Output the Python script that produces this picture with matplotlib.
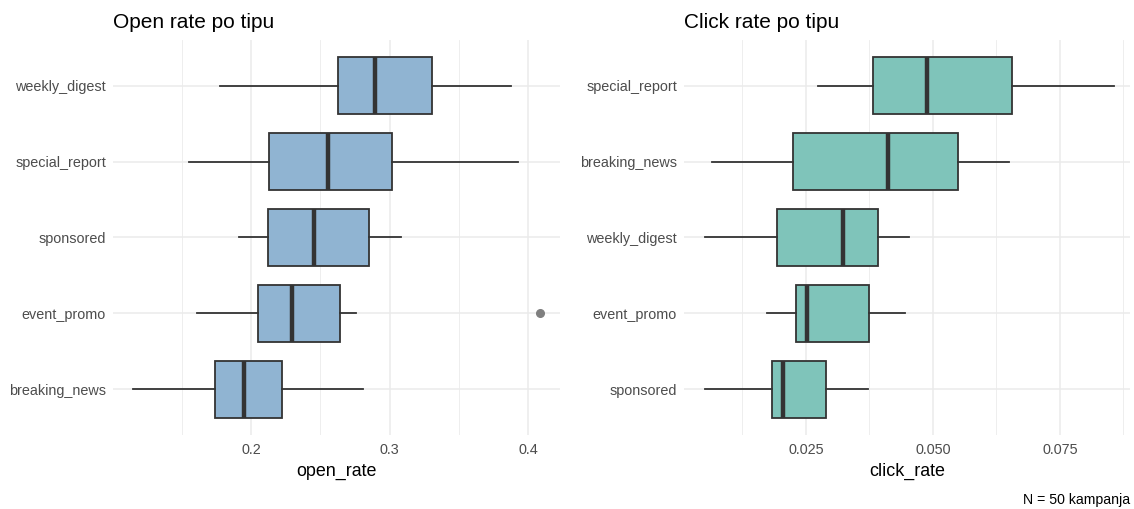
import numpy as np
import matplotlib
matplotlib.use("Agg")
import matplotlib.pyplot as plt
from matplotlib.ticker import FixedLocator

plt.rcParams['font.family'] = ['Liberation Sans', 'DejaVu Sans']

# open rate per type (top to bottom)
open_types = ['weekly_digest', 'special_report', 'sponsored', 'event_promo', 'breaking_news']
open_whislo = [0.1776, 0.1553, 0.1913, 0.1610, 0.1150]
open_q1 = [0.2626, 0.2132, 0.2124, 0.2053, 0.1742]
open_med = [0.2895, 0.2553, 0.2453, 0.2297, 0.1947]
open_q3 = [0.3310, 0.3020, 0.2855, 0.2645, 0.2226]
open_whishi = [0.3880, 0.3926, 0.3084, 0.2755, 0.2810]
open_fliers = [[], [], [], [0.4084], []]

# click rate per type (top to bottom)
click_types = ['special_report', 'breaking_news', 'weekly_digest', 'event_promo', 'sponsored']
click_whislo = [0.02736, 0.00657, 0.00514, 0.01736, 0.00514]
click_q1 = [0.03814, 0.02250, 0.01921, 0.02314, 0.01836]
click_med = [0.04879, 0.04114, 0.03229, 0.02521, 0.02043]
click_q3 = [0.06557, 0.05493, 0.03914, 0.03736, 0.02886]
click_whishi = [0.08560, 0.06500, 0.04521, 0.04457, 0.03714]
click_fliers = [[], [], [], [], []]


def make_stats(lo, q1, med, q3, hi, fl):
    out = []
    for i in range(len(med)):
        out.append(dict(whislo=lo[i], q1=q1[i], med=med[i], q3=q3[i],
                        whishi=hi[i], fliers=fl[i]))
    return out


def draw_panel(ax, types, stats, fill, title, xlabel, xlim, major, minor, ticklabels):
    n = len(types)
    pos = np.arange(n)[::-1] + 1
    ax.bxp(stats, positions=pos, vert=False, widths=0.75, patch_artist=True,
           showcaps=False,
           boxprops=dict(facecolor=fill, alpha=1, edgecolor='#333333', linewidth=1.3),
           medianprops=dict(color='#333333', linewidth=3.2),
           whiskerprops=dict(color='#333333', linewidth=1.3),
           flierprops=dict(marker='o', markerfacecolor='#7f7f7f', markeredgecolor='#7f7f7f',
                           markersize=5.5))
    ax.set_xlim(*xlim)
    ax.set_ylim(0.4, n + 0.6)
    ax.set_yticks(pos)
    ax.set_yticklabels(types)
    ax.xaxis.set_major_locator(FixedLocator(major))
    ax.set_xticklabels(ticklabels)
    ax.xaxis.set_minor_locator(FixedLocator(minor))
    ax.grid(True, which='major', color='#EBEBEB', linewidth=1.1, zorder=0)
    ax.grid(True, which='minor', axis='x', color='#EBEBEB', linewidth=0.6, zorder=0)
    ax.set_axisbelow(True)
    for s in ax.spines.values():
        s.set_visible(False)
    ax.tick_params(which='both', length=0, labelsize=10.4, labelcolor='#4D4D4D')
    ax.tick_params(axis='y', pad=5)
    ax.tick_params(axis='x', pad=6)
    ax.set_xlabel(xlabel, fontsize=12.9, color='black', labelpad=4)
    ax.set_title(title, loc='left', fontsize=15, pad=9, x=0.0)


fig = plt.figure(figsize=(11.34, 5.09), dpi=100)
ax1 = fig.add_axes([113 / 1134, 1 - 435 / 509, (560 - 113) / 1134, (435 - 40) / 509])
ax2 = fig.add_axes([684 / 1134, 1 - 435 / 509, (1130 - 684) / 1134, (435 - 40) / 509])

draw_panel(ax1, open_types,
           make_stats(open_whislo, open_q1, open_med, open_q3, open_whishi, open_fliers),
           '#90B4D2', 'Open rate po tipu', 'open_rate',
           (0.1003, 0.4231), [0.2, 0.3, 0.4], [0.15, 0.25, 0.35], ['0.2', '0.3', '0.4'])
draw_panel(ax2, click_types,
           make_stats(click_whislo, click_q1, click_med, click_q3, click_whishi, click_fliers),
           '#7FC4BA', 'Click rate po tipu', 'click_rate',
           (0.0010, 0.0888), [0.025, 0.05, 0.075], [0.0125, 0.0375, 0.0625, 0.0875],
           ['0.025', '0.050', '0.075'])

fig.text(1130 / 1134, 1 - 500 / 509, 'N = 50 kampanja', ha='right', va='center', fontsize=10.2)

fig.savefig('out.png', dpi=100)
